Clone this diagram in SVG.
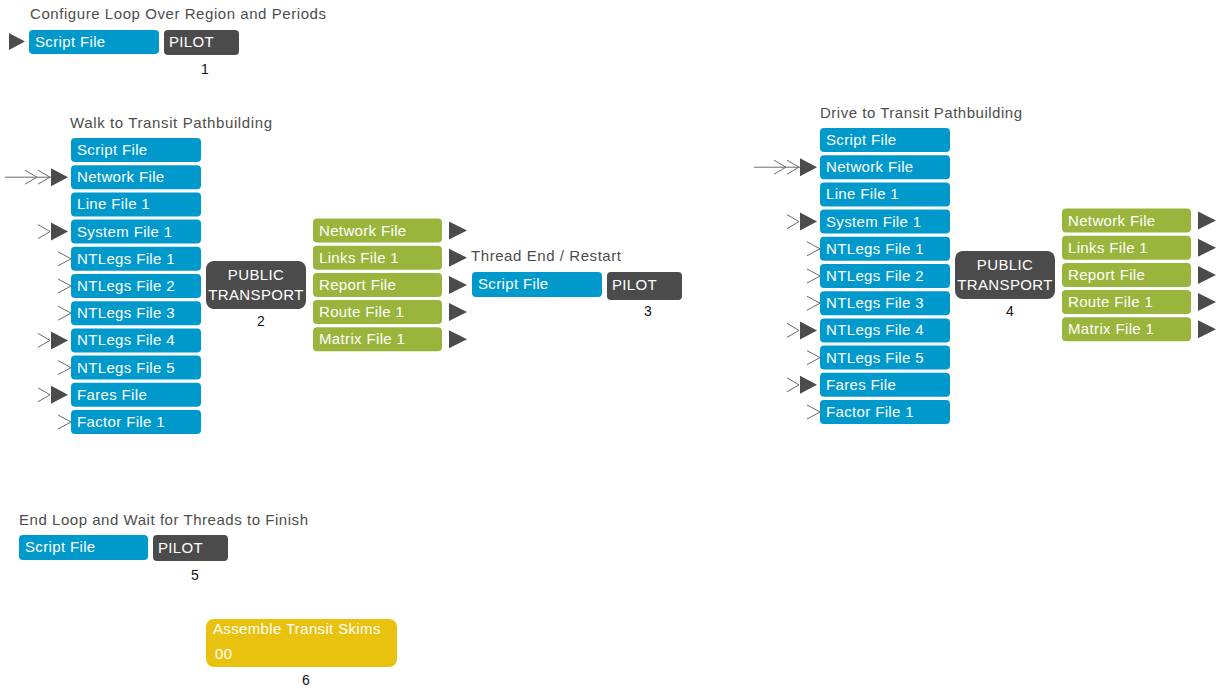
<svg xmlns="http://www.w3.org/2000/svg" xmlns:xlink="http://www.w3.org/1999/xlink" width="1225" height="689" viewBox="0 0 1225 689">
<style>
text{font-family:"Liberation Sans",Arial,sans-serif}
.title{font-size:15px;fill:#4d4d4d}
.lbl{font-size:15px;fill:#fff;letter-spacing:0.35px}
.num{font-size:14px;fill:#111;text-anchor:middle}
.blue{fill:#0099cc}
.green{fill:#9ab53c}
.dark{fill:#4b4b4b}
.yellow{fill:#e8c20f}
.chev{fill:none;stroke:#6a6a6a;stroke-width:1}
.tri{fill:#4b4b4b}
</style>
<defs>
<g id="inDouble"><line x1="-66" y1="0" x2="-20" y2="0" class="chev"/><polyline points="-46,-7 -34,0 -46,7" class="chev"/><polyline points="-33,-7 -21,0 -33,7" class="chev"/><polygon points="-20,-9 -3,0 -20,9" class="tri"/></g>
<g id="inSingle"><polyline points="-33,-7 -21,0 -33,7" class="chev"/><polygon points="-20,-9 -3,0 -20,9" class="tri"/></g>
<g id="inOpen"><polyline points="-13,-7 0,0 -13,7" class="chev"/></g>
<polygon id="outTri" points="0,-9 18,0 0,9" class="tri"/>
</defs>
<rect width="1225" height="689" fill="#fff"/>

<g id="connectors">
<polygon points="9,33 25,41.5 9,50" class="tri"/>
<!-- group 2 inputs -->
<use xlink:href="#inDouble" x="71" y="177.2"/>
<use xlink:href="#inSingle" x="71" y="231.6"/>
<use xlink:href="#inOpen" x="71" y="258.8"/>
<use xlink:href="#inOpen" x="71" y="286"/>
<use xlink:href="#inOpen" x="71" y="313.2"/>
<use xlink:href="#inSingle" x="71" y="340.4"/>
<use xlink:href="#inOpen" x="71" y="367.6"/>
<use xlink:href="#inSingle" x="71" y="394.8"/>
<use xlink:href="#inOpen" x="71" y="422"/>
<!-- group 2 outputs -->
<use xlink:href="#outTri" x="449" y="230.5"/>
<use xlink:href="#outTri" x="449" y="257.7"/>
<use xlink:href="#outTri" x="449" y="284.9"/>
<use xlink:href="#outTri" x="449" y="312.1"/>
<use xlink:href="#outTri" x="449" y="339.3"/>
<!-- group 4 inputs -->
<use xlink:href="#inDouble" x="820" y="167.2"/>
<use xlink:href="#inSingle" x="820" y="221.6"/>
<use xlink:href="#inOpen" x="820" y="248.8"/>
<use xlink:href="#inOpen" x="820" y="276"/>
<use xlink:href="#inOpen" x="820" y="303.2"/>
<use xlink:href="#inSingle" x="820" y="330.4"/>
<use xlink:href="#inOpen" x="820" y="357.6"/>
<use xlink:href="#inSingle" x="820" y="384.8"/>
<use xlink:href="#inOpen" x="820" y="412"/>
<!-- group 4 outputs -->
<use xlink:href="#outTri" x="1198" y="220.5"/>
<use xlink:href="#outTri" x="1198" y="247.7"/>
<use xlink:href="#outTri" x="1198" y="274.9"/>
<use xlink:href="#outTri" x="1198" y="302.1"/>
<use xlink:href="#outTri" x="1198" y="329.3"/>
</g>

<g id="node1">
<text x="30" y="19" class="title" textLength="296">Configure Loop Over Region and Periods</text>
<rect x="29" y="30" width="130" height="24" rx="4" class="blue"/>
<text x="35" y="47" class="lbl">Script File</text>
<rect x="164" y="30" width="75" height="25" rx="4" class="dark"/>
<text x="169" y="47" class="lbl">PILOT</text>
<text x="205" y="74" class="num">1</text>
</g>

<g id="node2">
<text x="70" y="128" class="title" textLength="202">Walk to Transit Pathbuilding</text>
<rect x="71" y="138" width="130" height="24" rx="4" class="blue"/>
<text x="77" y="155" class="lbl">Script File</text>
<rect x="71" y="165.2" width="130" height="24" rx="4" class="blue"/>
<text x="77" y="182.2" class="lbl">Network File</text>
<rect x="71" y="192.4" width="130" height="24" rx="4" class="blue"/>
<text x="77" y="209.4" class="lbl">Line File 1</text>
<rect x="71" y="219.6" width="130" height="24" rx="4" class="blue"/>
<text x="77" y="236.6" class="lbl">System File 1</text>
<rect x="71" y="246.8" width="130" height="24" rx="4" class="blue"/>
<text x="77" y="263.8" class="lbl">NTLegs File 1</text>
<rect x="71" y="274" width="130" height="24" rx="4" class="blue"/>
<text x="77" y="291" class="lbl">NTLegs File 2</text>
<rect x="71" y="301.2" width="130" height="24" rx="4" class="blue"/>
<text x="77" y="318.2" class="lbl">NTLegs File 3</text>
<rect x="71" y="328.4" width="130" height="24" rx="4" class="blue"/>
<text x="77" y="345.4" class="lbl">NTLegs File 4</text>
<rect x="71" y="355.6" width="130" height="24" rx="4" class="blue"/>
<text x="77" y="372.6" class="lbl">NTLegs File 5</text>
<rect x="71" y="382.8" width="130" height="24" rx="4" class="blue"/>
<text x="77" y="399.8" class="lbl">Fares File</text>
<rect x="71" y="410" width="130" height="24" rx="4" class="blue"/>
<text x="77" y="427" class="lbl">Factor File 1</text>
<rect x="206" y="261" width="100" height="48" rx="8" class="dark"/>
<text x="256" y="280" class="lbl" text-anchor="middle">PUBLIC</text>
<text x="256" y="300" class="lbl" text-anchor="middle" letter-spacing="0">TRANSPORT</text>
<text x="261" y="326" class="num">2</text>
<rect x="313" y="218.5" width="129" height="24" rx="4" class="green"/>
<text x="319" y="235.5" class="lbl">Network File</text>
<rect x="313" y="245.7" width="129" height="24" rx="4" class="green"/>
<text x="319" y="262.7" class="lbl">Links File 1</text>
<rect x="313" y="272.9" width="129" height="24" rx="4" class="green"/>
<text x="319" y="289.9" class="lbl">Report File</text>
<rect x="313" y="300.1" width="129" height="24" rx="4" class="green"/>
<text x="319" y="317.1" class="lbl">Route File 1</text>
<rect x="313" y="327.3" width="129" height="24" rx="4" class="green"/>
<text x="319" y="344.3" class="lbl">Matrix File 1</text>
</g>

<g id="node3">
<text x="471" y="261" class="title" textLength="150">Thread End / Restart</text>
<rect x="472" y="272" width="130" height="25" rx="4" class="blue"/>
<text x="478" y="289" class="lbl">Script File</text>
<rect x="607" y="272" width="75" height="28" rx="4" class="dark"/>
<text x="612" y="290" class="lbl">PILOT</text>
<text x="648" y="316" class="num">3</text>
</g>

<g id="node4">
<text x="820" y="118" class="title" textLength="202">Drive to Transit Pathbuilding</text>
<rect x="820" y="128" width="130" height="24" rx="4" class="blue"/>
<text x="826" y="145" class="lbl">Script File</text>
<rect x="820" y="155.2" width="130" height="24" rx="4" class="blue"/>
<text x="826" y="172.2" class="lbl">Network File</text>
<rect x="820" y="182.4" width="130" height="24" rx="4" class="blue"/>
<text x="826" y="199.4" class="lbl">Line File 1</text>
<rect x="820" y="209.6" width="130" height="24" rx="4" class="blue"/>
<text x="826" y="226.6" class="lbl">System File 1</text>
<rect x="820" y="236.8" width="130" height="24" rx="4" class="blue"/>
<text x="826" y="253.8" class="lbl">NTLegs File 1</text>
<rect x="820" y="264" width="130" height="24" rx="4" class="blue"/>
<text x="826" y="281" class="lbl">NTLegs File 2</text>
<rect x="820" y="291.2" width="130" height="24" rx="4" class="blue"/>
<text x="826" y="308.2" class="lbl">NTLegs File 3</text>
<rect x="820" y="318.4" width="130" height="24" rx="4" class="blue"/>
<text x="826" y="335.4" class="lbl">NTLegs File 4</text>
<rect x="820" y="345.6" width="130" height="24" rx="4" class="blue"/>
<text x="826" y="362.6" class="lbl">NTLegs File 5</text>
<rect x="820" y="372.8" width="130" height="24" rx="4" class="blue"/>
<text x="826" y="389.8" class="lbl">Fares File</text>
<rect x="820" y="400" width="130" height="24" rx="4" class="blue"/>
<text x="826" y="417" class="lbl">Factor File 1</text>
<rect x="955" y="251" width="100" height="48" rx="8" class="dark"/>
<text x="1005" y="270" class="lbl" text-anchor="middle">PUBLIC</text>
<text x="1005" y="290" class="lbl" text-anchor="middle" letter-spacing="0">TRANSPORT</text>
<text x="1010" y="316" class="num">4</text>
<rect x="1062" y="208.5" width="129" height="24" rx="4" class="green"/>
<text x="1068" y="225.5" class="lbl">Network File</text>
<rect x="1062" y="235.7" width="129" height="24" rx="4" class="green"/>
<text x="1068" y="252.7" class="lbl">Links File 1</text>
<rect x="1062" y="262.9" width="129" height="24" rx="4" class="green"/>
<text x="1068" y="279.9" class="lbl">Report File</text>
<rect x="1062" y="290.1" width="129" height="24" rx="4" class="green"/>
<text x="1068" y="307.1" class="lbl">Route File 1</text>
<rect x="1062" y="317.3" width="129" height="24" rx="4" class="green"/>
<text x="1068" y="334.3" class="lbl">Matrix File 1</text>
</g>

<g id="node5">
<text x="19" y="525" class="title" textLength="289">End Loop and Wait for Threads to Finish</text>
<rect x="19" y="535" width="129" height="25" rx="4" class="blue"/>
<text x="25" y="552" class="lbl">Script File</text>
<rect x="153" y="535" width="75" height="26" rx="4" class="dark"/>
<text x="158" y="553" class="lbl">PILOT</text>
<text x="195" y="580" class="num">5</text>
</g>

<g id="node6">
<rect x="206" y="619" width="191" height="48" rx="8" class="yellow"/>
<text x="213" y="634" class="lbl" letter-spacing="0.2">Assemble Transit Skims</text>
<text x="215" y="659" class="lbl">00</text>
<text x="306" y="685" class="num">6</text>
</g>
</svg>
